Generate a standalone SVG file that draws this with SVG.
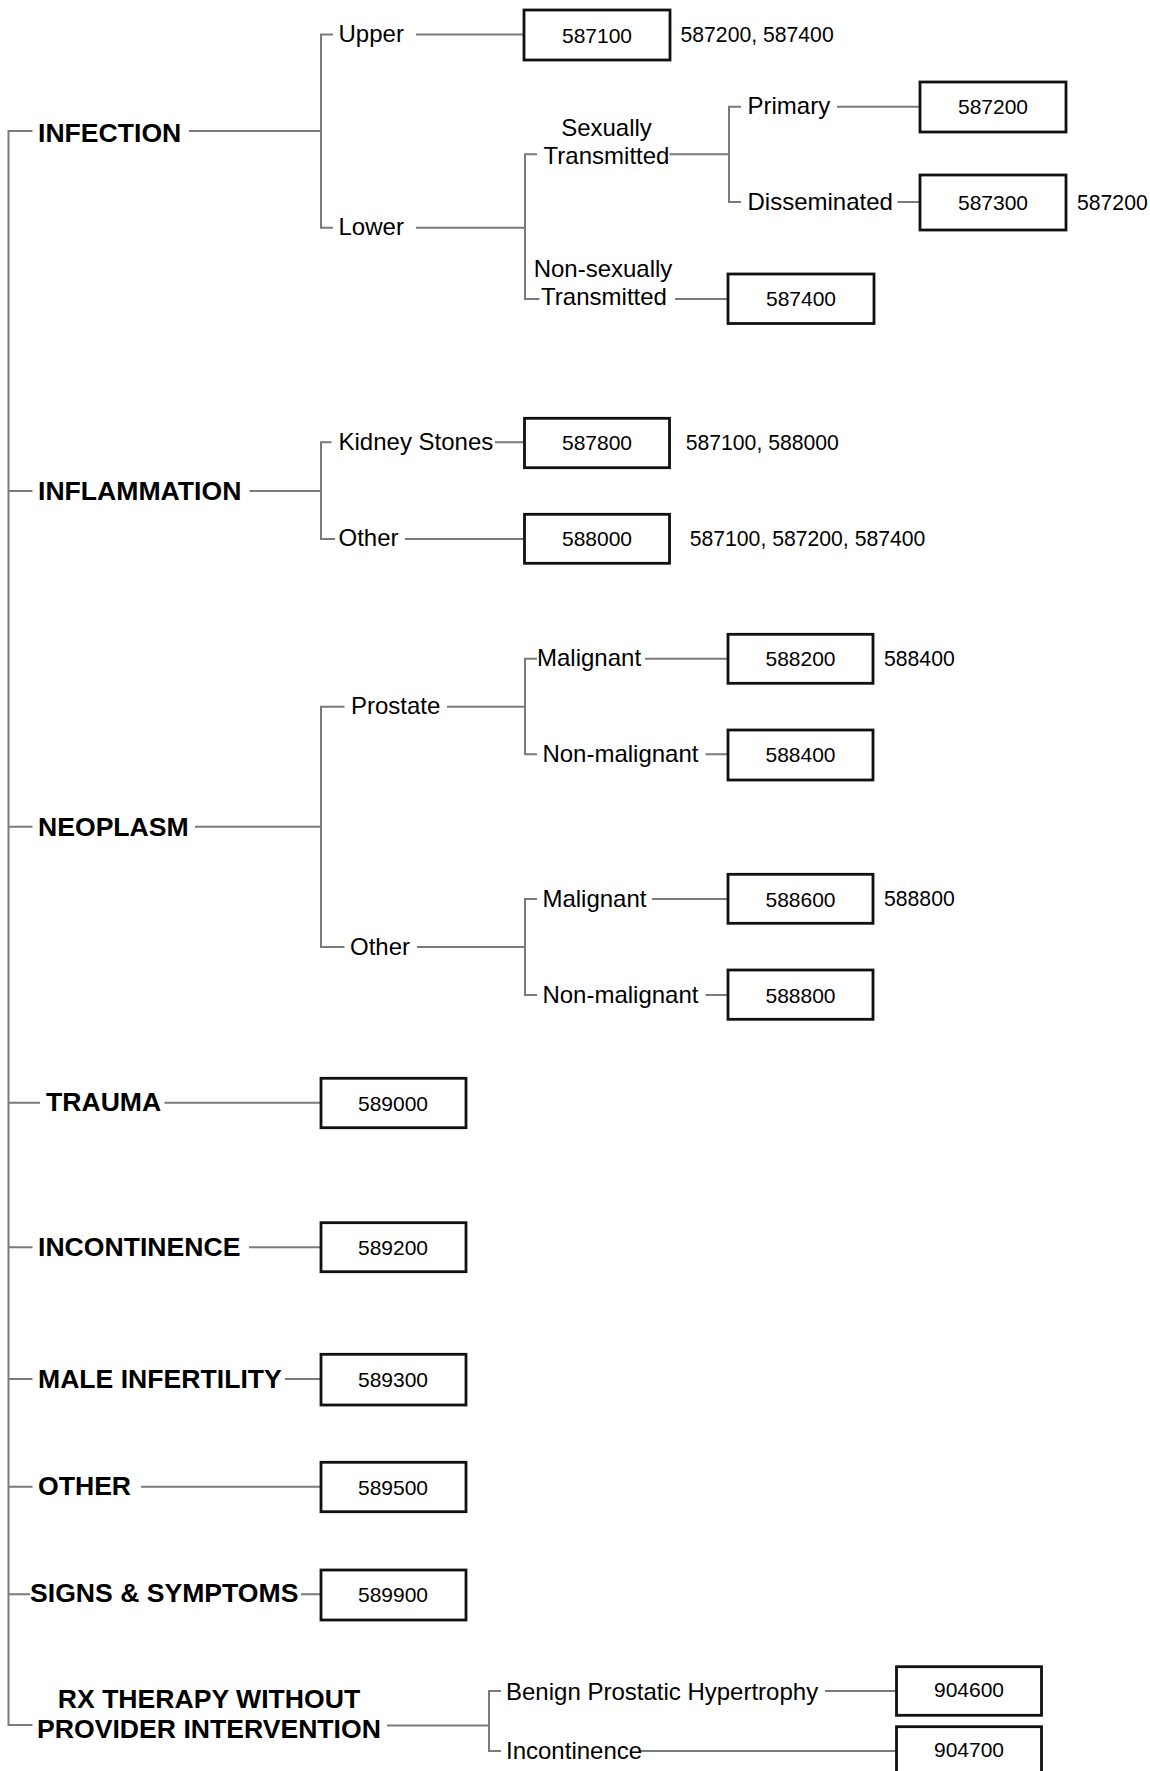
<svg xmlns="http://www.w3.org/2000/svg" width="1150" height="1771" viewBox="0 0 1150 1771">
<style>
.bg{fill:#fff}
.ln{stroke:#7a7a7a;stroke-width:2;fill:none;stroke-linecap:butt}
.box{fill:#fff;stroke:#111;stroke-width:2.8}
.cat{font-family:"Liberation Sans",Arial,sans-serif;font-weight:bold;font-size:26.6px;fill:#000}
.lbl{font-family:"Liberation Sans",Arial,sans-serif;font-size:24px;fill:#000}
.code{font-family:"Liberation Sans",Arial,sans-serif;font-size:21px;fill:#000;text-anchor:middle}
.ref{font-family:"Liberation Sans",Arial,sans-serif;font-size:21.2px;fill:#000}
.mid{text-anchor:middle}
</style>
<rect class="bg" x="0" y="0" width="1150" height="1771"/>
<g id="connectors">
<path class="ln" d="M32.5,131 H8.5 V1725 H32.5"/>
<path class="ln" d="M8.5,491 H32.5 M8.5,826.7 H32.5 M8.5,1102.7 H40 M8.5,1247.3 H32.5 M8.5,1379 H32.5 M8.5,1486.7 H32.5 M8.5,1594.3 H30"/>
<path class="ln" d="M189,131 H321 M333,34.5 H321 V227.7 H333 M416,34.5 H524 M416,227.7 H525"/>
<path class="ln" d="M537,154.3 H525 V299 H539.4 M669.5,154.3 H729 M741,106.7 H729 V202 H741 M837,106.7 H920 M897.5,202 H920 M675,299 H728"/>
<path class="ln" d="M249.5,491 H321 M331.5,442.3 H321 V539 H335 M495,442.3 H524.5 M405,539 H524.5"/>
<path class="ln" d="M195,826.7 H321 M344.5,706.7 H321 V947 H344.5 M447,706.7 H525 M417,947 H525"/>
<path class="ln" d="M537,658.7 H525 V754.3 H537 M645,658.7 H728 M705.5,754.3 H728"/>
<path class="ln" d="M537,899 H525 V995 H537 M652,899 H728 M705.5,995 H728"/>
<path class="ln" d="M164.5,1102.7 H321 M249,1247.3 H321 M285,1379 H321 M141,1486.7 H321 M301,1594.3 H321"/>
<path class="ln" d="M387,1725.5 H489 M501,1691 H489 V1751 H501 M825,1691 H896.5 M641,1751 H896.5"/>
</g>
<g id="infection">
<text class="cat" x="38" y="142">INFECTION</text>
</g>
<g id="upper">
<text class="lbl" x="338.5" y="42">Upper</text>
</g>
<g id="box-587100">
<rect class="box" x="524" y="10" width="146" height="50"/>
<text class="code" x="597" y="42.5">587100</text>
<text class="ref" x="680.5" y="42">587200, 587400</text>
</g>
<g id="lower">
<text class="lbl" x="338.5" y="235">Lower</text>
</g>
<g id="sexually-transmitted">
<text class="lbl mid" x="606.5" y="136">Sexually</text>
<text class="lbl mid" x="606.5" y="164">Transmitted</text>
</g>
<g id="primary">
<text class="lbl" x="747.5" y="114">Primary</text>
</g>
<g id="box-587200">
<rect class="box" x="920" y="82" width="146" height="50"/>
<text class="code" x="993" y="114">587200</text>
</g>
<g id="disseminated">
<text class="lbl" x="747.5" y="209.5">Disseminated</text>
</g>
<g id="box-587300">
<rect class="box" x="920" y="175" width="146" height="55"/>
<text class="code" x="993" y="210">587300</text>
<text class="ref" x="1077" y="209.5">587200</text>
</g>
<g id="non-sexually-transmitted">
<text class="lbl mid" x="603" y="276.7">Non-sexually</text>
<text class="lbl mid" x="604" y="305">Transmitted</text>
</g>
<g id="box-587400">
<rect class="box" x="728" y="274" width="146" height="49.5"/>
<text class="code" x="801" y="306">587400</text>
</g>
<g id="inflammation">
<text class="cat" x="38" y="499.5">INFLAMMATION</text>
</g>
<g id="kidney-stones">
<text class="lbl" x="338.5" y="450">Kidney Stones</text>
</g>
<g id="box-587800">
<rect class="box" x="524.5" y="418.3" width="145" height="49.4"/>
<text class="code" x="597" y="450">587800</text>
<text class="ref" x="685.7" y="450">587100, 588000</text>
</g>
<g id="inflammation-other">
<text class="lbl" x="338.5" y="546">Other</text>
</g>
<g id="box-588000">
<rect class="box" x="524.5" y="514.3" width="145" height="49"/>
<text class="code" x="597" y="546">588000</text>
<text class="ref" x="689.7" y="546">587100, 587200, 587400</text>
</g>
<g id="neoplasm">
<text class="cat" x="38" y="835.5">NEOPLASM</text>
</g>
<g id="prostate">
<text class="lbl" x="351" y="714">Prostate</text>
</g>
<g id="prostate-malignant">
<text class="lbl" x="537" y="666">Malignant</text>
</g>
<g id="box-588200">
<rect class="box" x="728" y="634.3" width="145" height="49"/>
<text class="code" x="800.5" y="666">588200</text>
<text class="ref" x="884" y="666">588400</text>
</g>
<g id="prostate-non-malignant">
<text class="lbl" x="542.4" y="762">Non-malignant</text>
</g>
<g id="box-588400">
<rect class="box" x="728" y="730" width="145" height="50"/>
<text class="code" x="800.5" y="762">588400</text>
</g>
<g id="neoplasm-other">
<text class="lbl" x="350" y="954.5">Other</text>
</g>
<g id="other-malignant">
<text class="lbl" x="542.4" y="906.5">Malignant</text>
</g>
<g id="box-588600">
<rect class="box" x="728" y="874.3" width="145" height="49"/>
<text class="code" x="800.5" y="906.5">588600</text>
<text class="ref" x="884" y="906">588800</text>
</g>
<g id="other-non-malignant">
<text class="lbl" x="542.4" y="1002.5">Non-malignant</text>
</g>
<g id="box-588800">
<rect class="box" x="728" y="970" width="145" height="49.3"/>
<text class="code" x="800.5" y="1002.5">588800</text>
</g>
<g id="trauma">
<text class="cat" x="46" y="1111">TRAUMA</text>
</g>
<g id="box-589000">
<rect class="box" x="321" y="1078.3" width="145" height="49.4"/>
<text class="code" x="393" y="1110.5">589000</text>
</g>
<g id="incontinence">
<text class="cat" x="38" y="1255.5">INCONTINENCE</text>
</g>
<g id="box-589200">
<rect class="box" x="321" y="1222.7" width="145" height="49"/>
<text class="code" x="393" y="1255">589200</text>
</g>
<g id="male-infertility">
<text class="cat" x="38" y="1387.5">MALE INFERTILITY</text>
</g>
<g id="box-589300">
<rect class="box" x="321" y="1354.3" width="145" height="50.7"/>
<text class="code" x="393" y="1387">589300</text>
</g>
<g id="other">
<text class="cat" x="38" y="1495">OTHER</text>
</g>
<g id="box-589500">
<rect class="box" x="321" y="1462.3" width="145" height="49.4"/>
<text class="code" x="393" y="1494.5">589500</text>
</g>
<g id="signs-symptoms">
<text class="cat" x="30" y="1602">SIGNS &amp; SYMPTOMS</text>
</g>
<g id="box-589900">
<rect class="box" x="321" y="1570" width="145" height="50"/>
<text class="code" x="393" y="1602">589900</text>
</g>
<g id="rx-therapy">
<text class="cat mid" x="209" y="1708">RX THERAPY WITHOUT</text>
<text class="cat mid" x="209" y="1737.5">PROVIDER INTERVENTION</text>
</g>
<g id="bph">
<text class="lbl" x="506" y="1699.5">Benign Prostatic Hypertrophy</text>
</g>
<g id="box-904600">
<rect class="box" x="896.5" y="1666.7" width="145" height="48.6"/>
<text class="code" x="969" y="1697">904600</text>
</g>
<g id="rx-incontinence">
<text class="lbl" x="506" y="1759.3">Incontinence</text>
</g>
<g id="box-904700">
<rect class="box" x="896.5" y="1726.7" width="145" height="50"/>
<text class="code" x="969" y="1757">904700</text>
</g>
</svg>
